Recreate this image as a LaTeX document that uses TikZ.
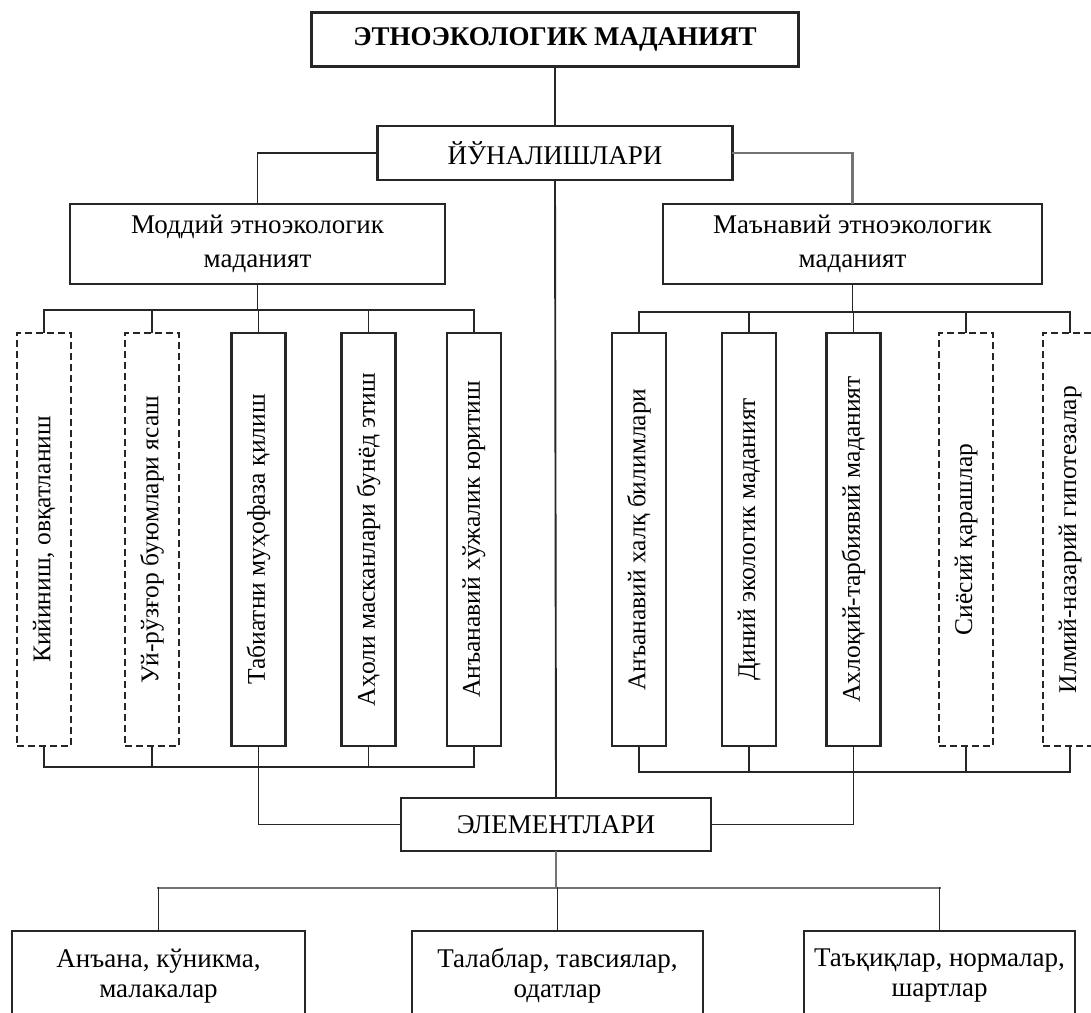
\documentclass[tikz,border=0pt]{standalone}
\usepackage{fontspec}
\setmainfont{Liberation Serif}
\usetikzlibrary{
	positioning,   %placement
	calc           %coordinates
}
\tikzset{
	every picture/.style={
		line join=miter,
		line cap=rect
}}
\tikzset{box/.style={draw=black!85,line width=2.1pt,fill=white,
		inner sep=0pt,align=center,
		font=\fontsize{27}{34}\selectfont}}
\tikzset{vbox/.style={box,minimum width=54,minimum height=413,
		font=\fontsize{25.5}{28}\selectfont}}
\tikzset{dbox/.style={vbox,dash pattern=on 7pt off 4pt,line cap=butt}}
\tikzset{lbox/.style={box,minimum height=90,font=\fontsize{27}{30}\selectfont}}
\tikzset{link/.style={draw=black!85,line width=1.9pt}}
\tikzset{glink/.style={draw=black!55,line width=2.6pt}}

\begin{document}
\begin{tikzpicture}[x=1pt,y=-1pt]
\useasboundingbox (0,0) rectangle (1091,1012);
\def\vy{539.5}%vertical boxes centre

%levels of the buses
\coordinate (mt) at (0,310);
\coordinate (mb) at (0,767);
\coordinate (nt) at (0,312);
\coordinate (nb) at (0,772);
\coordinate (eb) at (0,888);

%top and the two branches
\node[box,minimum width=487,minimum height=54,
	font=\bfseries\fontsize{27}{30}\selectfont] (top) at (555,39.5) {ЭТНОЭКОЛОГИК МАДАНИЯТ};
\node[box,minimum width=355,minimum height=54] (yon) at (555,153) {ЙЎНАЛИШЛАРИ};
\node[box,minimum width=375,minimum height=80] (moddiy) at (257.5,244) {Моддий этноэкологик\\маданият};
\node[box,minimum width=379,minimum height=80] (manaviy) at (852.5,244) {Маънавий этноэкологик\\маданият};

%left column boxes
\node[dbox] (m1) at (44,\vy) {\rotatebox{90}{Кийиниш, овқатланиш}};
\node[dbox] (m2) at (152,\vy) {\rotatebox{90}{Уй-рўзғор буюмлари ясаш}};
\node[vbox] (m3) at (258.5,\vy) {\rotatebox{90}{Табиатни муҳофаза қилиш}};
\node[vbox] (m4) at (368.5,\vy) {\rotatebox{90}{Аҳоли масканлари бунёд этиш}};
\node[vbox] (m5) at (474,\vy) {\rotatebox{90}{Анъанавий хўжалик юритиш}};

%right column boxes
\node[vbox] (n1) at (639,\vy) {\rotatebox{90}{Анъанавий халқ билимлари}};
\node[vbox] (n2) at (749,\vy) {\rotatebox{90}{Диний экологик маданият}};
\node[vbox] (n3) at (853.5,\vy) {\rotatebox{90}{Ахлоқий-тарбиявий маданият}};
\node[dbox] (n4) at (966,\vy) {\rotatebox{90}{Сиёсий қарашлар}};
\node[dbox] (n5) at (1070,\vy) {\rotatebox{90}{Илмий-назарий гипотезалар}};

%elements
\node[box,minimum width=310,minimum height=53] (elem) at (556,824.5) {ЭЛЕМЕНТЛАРИ};
\node[lbox,minimum width=293] (e1) at (158.5,976) {Анъана, кўникма,\\малакалар};
\node[lbox,minimum width=291] (e2) at (557.5,976) {Талаблар, тавсиялар,\\одатлар};
\node[lbox,minimum width=271] (e3) at (939.5,976) {Таъқиқлар, нормалар,\\шартлар};

%upper links
\draw[link] (top.south) -- (top.south |- yon.north);
\draw[link] (yon.west) -| (moddiy.north);
\draw[glink] (yon.east) -| (manaviy.north);
\draw[link] (yon.south) -- (elem.north);

%left buses
\draw[link] (moddiy.south) -- (moddiy.south |- mt);
\draw[link] (m1.north |- mt) -- (m5.north |- mt);
\draw[link] (m1.south |- mb) -- (m5.south |- mb);
\foreach \i in {1,...,5}{
	\draw[link] (m\i.north |- mt) -- (m\i.north);
	\draw[link] (m\i.south) -- (m\i.south |- mb);
}
\draw[link] (m3.south |- mb) |- (elem.west);

%right buses
\draw[link] (manaviy.south) -- (manaviy.south |- nt);
\draw[link] (n1.north |- nt) -- (n5.north |- nt);
\draw[link] (n1.south |- nb) -- (n5.south |- nb);
\foreach \i in {1,...,5}{
	\draw[link] (n\i.north |- nt) -- (n\i.north);
	\draw[link] (n\i.south) -- (n\i.south |- nb);
}
\draw[link] (n3.south |- nb) |- (elem.east);

%lower links
\draw[glink] (elem.south) -- (elem.south |- eb);
\draw[glink] (e1.north |- eb) -- (e3.north |- eb);
\foreach \i in {1,2,3}
\draw[link] (e\i.north |- eb) -- (e\i.north);

\end{tikzpicture}
\end{document}
